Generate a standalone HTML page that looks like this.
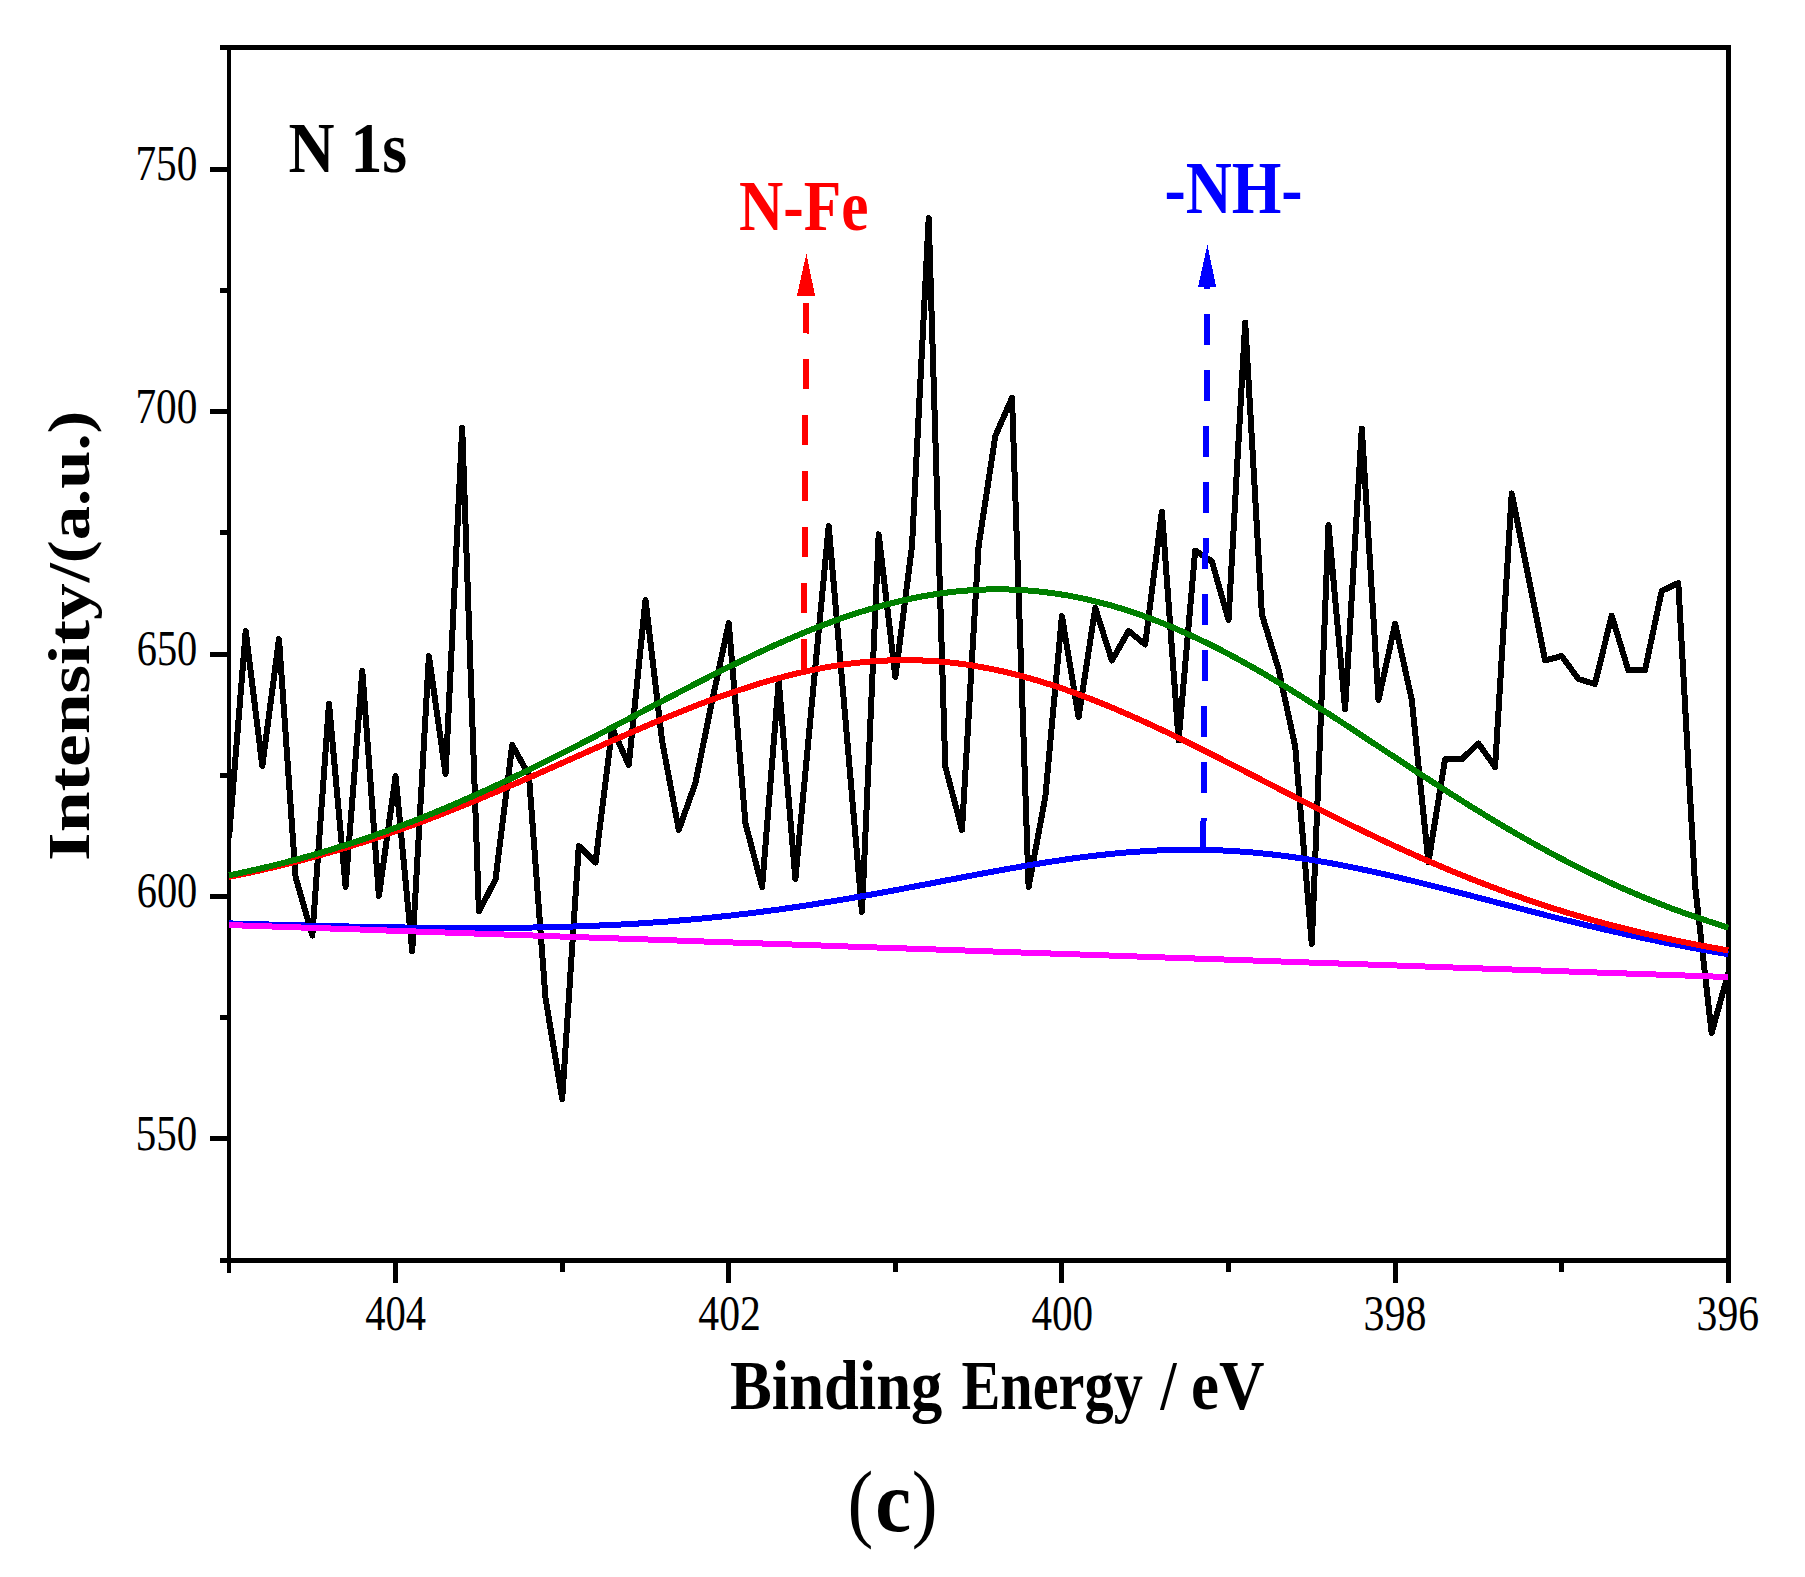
<!DOCTYPE html>
<html lang="en"><head><meta charset="utf-8"><title>N 1s XPS spectrum (c)</title>
<style>
html,body{margin:0;padding:0;background:#fff;}
body{width:1805px;height:1577px;overflow:hidden;}
svg{display:block;}
svg text{font-family:"Liberation Serif","DejaVu Serif",serif;font-size:100px;}
</style></head><body>
<svg width="1805" height="1577" viewBox="0 0 1805 1577">
<rect width="1805" height="1577" fill="#fff"/>
<g stroke="#000" fill="none" shape-rendering="crispEdges">
<line x1="219.5" y1="47.5" x2="1731" y2="47.5" stroke-width="5.0"/>
<line x1="219.5" y1="1260.5" x2="1731" y2="1260.5" stroke-width="5.0"/>
<line x1="229.0" y1="45.0" x2="229.0" y2="1272.5" stroke-width="4.0"/>
<line x1="1728.5" y1="45.0" x2="1728.5" y2="1283.0" stroke-width="5"/>
<line x1="210.2" y1="169.30" x2="229.0" y2="169.30" stroke-width="5.0"/>
<line x1="210.2" y1="411.65" x2="229.0" y2="411.65" stroke-width="5.0"/>
<line x1="210.2" y1="654.00" x2="229.0" y2="654.00" stroke-width="5.0"/>
<line x1="210.2" y1="896.35" x2="229.0" y2="896.35" stroke-width="5.0"/>
<line x1="210.2" y1="1138.70" x2="229.0" y2="1138.70" stroke-width="5.0"/>
<line x1="219.5" y1="290.48" x2="229.0" y2="290.48" stroke-width="5.0"/>
<line x1="219.5" y1="532.83" x2="229.0" y2="532.83" stroke-width="5.0"/>
<line x1="219.5" y1="775.17" x2="229.0" y2="775.17" stroke-width="5.0"/>
<line x1="219.5" y1="1017.53" x2="229.0" y2="1017.53" stroke-width="5.0"/>
<line x1="395.5" y1="1260.5" x2="395.5" y2="1283" stroke-width="5"/>
<line x1="728.5" y1="1260.5" x2="728.5" y2="1283" stroke-width="5"/>
<line x1="1061.5" y1="1260.5" x2="1061.5" y2="1283" stroke-width="5"/>
<line x1="1395.5" y1="1260.5" x2="1395.5" y2="1283" stroke-width="5"/>
<line x1="562.5" y1="1260.5" x2="562.5" y2="1272" stroke-width="5"/>
<line x1="895.5" y1="1260.5" x2="895.5" y2="1272" stroke-width="5"/>
<line x1="1228.5" y1="1260.5" x2="1228.5" y2="1272" stroke-width="5"/>
<line x1="1561.5" y1="1260.5" x2="1561.5" y2="1272" stroke-width="5"/>
</g>
<defs><clipPath id="plotclip"><rect x="228" y="40" width="1501.5" height="1225"/></clipPath></defs>
<g fill="none" stroke-linejoin="round" stroke-linecap="butt" clip-path="url(#plotclip)" shape-rendering="crispEdges">
<polyline points="229.0,838.0 245.7,631.0 262.3,766.0 279.0,639.0 295.6,877.0 312.3,935.5 329.0,703.5 345.6,887.0 362.3,671.0 378.9,896.0 395.6,776.0 412.2,951.0 428.9,656.0 445.6,774.0 462.2,428.0 478.9,911.5 495.5,879.5 512.2,745.0 528.9,775.0 545.5,998.0 562.2,1099.0 578.8,846.0 595.5,862.5 612.2,728.0 628.8,765.0 645.5,600.0 662.1,741.0 678.8,830.0 695.4,783.0 712.1,701.0 728.8,623.0 745.4,823.0 762.1,887.0 778.7,681.0 795.4,879.0 812.1,701.0 828.7,526.0 845.4,719.0 862.0,912.0 878.7,534.3 895.4,677.0 912.0,546.0 928.7,218.0 945.3,766.5 962.0,830.0 978.6,546.0 995.3,436.0 1012.0,397.8 1028.6,887.0 1045.3,797.0 1061.9,616.0 1078.6,717.0 1095.3,608.0 1111.9,660.5 1128.6,631.0 1145.2,644.5 1161.9,511.5 1178.6,740.5 1195.2,550.5 1211.9,561.3 1228.5,620.0 1245.2,322.5 1261.9,614.5 1278.5,669.0 1295.2,746.5 1311.8,944.0 1328.5,525.0 1345.1,709.0 1361.8,428.6 1378.5,700.0 1395.1,623.6 1411.8,700.0 1428.4,862.4 1445.1,759.1 1461.8,759.1 1478.4,743.5 1495.1,767.0 1511.7,493.5 1528.4,577.0 1545.1,660.5 1561.7,656.0 1578.4,679.0 1595.0,684.0 1611.7,615.6 1628.3,670.2 1645.0,670.2 1661.7,591.0 1678.3,583.0 1695.0,885.0 1711.6,1033.0 1728.3,973.0" stroke="#000" stroke-width="6"/>
<polyline points="229.0,923.4 237.0,923.6 245.0,923.9 253.0,924.1 261.0,924.3 269.0,924.5 277.0,924.8 285.0,925.0 293.0,925.2 301.0,925.4 309.0,925.6 317.0,925.8 325.0,926.0 333.0,926.2 341.0,926.3 349.0,926.5 357.0,926.7 365.0,926.8 373.0,927.0 381.0,927.1 389.0,927.3 397.0,927.4 405.0,927.5 413.0,927.6 421.0,927.7 429.0,927.8 437.0,927.9 445.0,927.9 453.0,928.0 461.0,928.0 469.0,928.0 477.0,928.0 485.0,928.0 493.0,928.0 501.0,927.9 509.0,927.8 517.0,927.8 525.0,927.6 533.0,927.5 541.0,927.4 549.0,927.2 557.0,927.0 565.0,926.8 573.0,926.5 581.0,926.3 589.0,926.0 597.0,925.6 605.0,925.3 613.0,924.9 621.0,924.5 629.0,924.1 637.0,923.6 645.0,923.1 653.0,922.5 661.0,922.0 669.0,921.4 677.0,920.7 685.0,920.1 693.0,919.3 701.0,918.6 709.0,917.8 717.0,917.0 725.0,916.1 733.0,915.3 741.0,914.3 749.0,913.4 757.0,912.4 765.0,911.3 773.0,910.3 781.0,909.2 789.0,908.0 797.0,906.9 805.0,905.7 813.0,904.4 821.0,903.1 829.0,901.8 837.0,900.5 845.0,899.2 853.0,897.8 861.0,896.4 869.0,895.0 877.0,893.5 885.0,892.0 893.0,890.6 901.0,889.1 909.0,887.5 917.0,886.0 925.0,884.5 933.0,883.0 941.0,881.4 949.0,879.9 957.0,878.4 965.0,876.8 973.0,875.3 981.0,873.8 989.0,872.3 997.0,870.9 1005.0,869.4 1013.0,868.0 1021.0,866.6 1029.0,865.2 1037.0,863.9 1045.0,862.6 1053.0,861.4 1061.0,860.2 1069.0,859.0 1077.0,857.9 1085.0,856.9 1093.0,855.9 1101.0,855.0 1109.0,854.1 1117.0,853.3 1125.0,852.6 1133.0,852.0 1141.0,851.4 1149.0,850.9 1157.0,850.5 1165.0,850.2 1173.0,850.0 1181.0,849.8 1189.0,849.8 1197.0,849.8 1205.0,849.9 1213.0,850.1 1221.0,850.4 1229.0,850.8 1237.0,851.3 1245.0,851.9 1253.0,852.5 1261.0,853.3 1269.0,854.1 1277.0,855.0 1285.0,856.0 1293.0,857.1 1301.0,858.3 1309.0,859.5 1317.0,860.8 1325.0,862.2 1333.0,863.6 1341.0,865.1 1349.0,866.7 1357.0,868.3 1365.0,870.0 1373.0,871.7 1381.0,873.5 1389.0,875.3 1397.0,877.2 1405.0,879.1 1413.0,881.0 1421.0,883.0 1429.0,885.0 1437.0,887.0 1445.0,889.0 1453.0,891.1 1461.0,893.1 1469.0,895.2 1477.0,897.3 1485.0,899.4 1493.0,901.5 1501.0,903.6 1509.0,905.7 1517.0,907.7 1525.0,909.8 1533.0,911.9 1541.0,913.9 1549.0,916.0 1557.0,918.0 1565.0,920.0 1573.0,921.9 1581.0,923.9 1589.0,925.8 1597.0,927.7 1605.0,929.6 1613.0,931.4 1621.0,933.2 1629.0,935.0 1637.0,936.7 1645.0,938.4 1653.0,940.1 1661.0,941.8 1669.0,943.4 1677.0,944.9 1685.0,946.5 1693.0,948.0 1701.0,949.4 1709.0,950.9 1717.0,952.3 1725.0,953.6 1728.3,954.2" stroke="#0000ff" stroke-width="6"/>
<polyline points="229.0,925.0 237.0,925.3 245.0,925.6 253.0,925.8 261.0,926.1 269.0,926.4 277.0,926.7 285.0,926.9 293.0,927.2 301.0,927.5 309.0,927.8 317.0,928.1 325.0,928.3 333.0,928.6 341.0,928.9 349.0,929.2 357.0,929.4 365.0,929.7 373.0,930.0 381.0,930.3 389.0,930.6 397.0,930.8 405.0,931.1 413.0,931.4 421.0,931.7 429.0,931.9 437.0,932.2 445.0,932.5 453.0,932.8 461.0,933.1 469.0,933.3 477.0,933.6 485.0,933.9 493.0,934.2 501.0,934.4 509.0,934.7 517.0,935.0 525.0,935.3 533.0,935.5 541.0,935.8 549.0,936.1 557.0,936.4 565.0,936.7 573.0,936.9 581.0,937.2 589.0,937.5 597.0,937.8 605.0,938.0 613.0,938.3 621.0,938.6 629.0,938.9 637.0,939.2 645.0,939.4 653.0,939.7 661.0,940.0 669.0,940.3 677.0,940.5 685.0,940.8 693.0,941.1 701.0,941.4 709.0,941.7 717.0,941.9 725.0,942.2 733.0,942.5 741.0,942.8 749.0,943.0 757.0,943.3 765.0,943.6 773.0,943.9 781.0,944.2 789.0,944.4 797.0,944.7 805.0,945.0 813.0,945.3 821.0,945.5 829.0,945.8 837.0,946.1 845.0,946.4 853.0,946.7 861.0,946.9 869.0,947.2 877.0,947.5 885.0,947.8 893.0,948.0 901.0,948.3 909.0,948.6 917.0,948.9 925.0,949.2 933.0,949.4 941.0,949.7 949.0,950.0 957.0,950.3 965.0,950.5 973.0,950.8 981.0,951.1 989.0,951.4 997.0,951.6 1005.0,951.9 1013.0,952.2 1021.0,952.5 1029.0,952.8 1037.0,953.0 1045.0,953.3 1053.0,953.6 1061.0,953.9 1069.0,954.1 1077.0,954.4 1085.0,954.7 1093.0,955.0 1101.0,955.3 1109.0,955.5 1117.0,955.8 1125.0,956.1 1133.0,956.4 1141.0,956.6 1149.0,956.9 1157.0,957.2 1165.0,957.5 1173.0,957.8 1181.0,958.0 1189.0,958.3 1197.0,958.6 1205.0,958.9 1213.0,959.1 1221.0,959.4 1229.0,959.7 1237.0,960.0 1245.0,960.3 1253.0,960.5 1261.0,960.8 1269.0,961.1 1277.0,961.4 1285.0,961.6 1293.0,961.9 1301.0,962.2 1309.0,962.5 1317.0,962.8 1325.0,963.0 1333.0,963.3 1341.0,963.6 1349.0,963.9 1357.0,964.1 1365.0,964.4 1373.0,964.7 1381.0,965.0 1389.0,965.3 1397.0,965.5 1405.0,965.8 1413.0,966.1 1421.0,966.4 1429.0,966.6 1437.0,966.9 1445.0,967.2 1453.0,967.5 1461.0,967.8 1469.0,968.0 1477.0,968.3 1485.0,968.6 1493.0,968.9 1501.0,969.1 1509.0,969.4 1517.0,969.7 1525.0,970.0 1533.0,970.2 1541.0,970.5 1549.0,970.8 1557.0,971.1 1565.0,971.4 1573.0,971.6 1581.0,971.9 1589.0,972.2 1597.0,972.5 1605.0,972.7 1613.0,973.0 1621.0,973.3 1629.0,973.6 1637.0,973.9 1645.0,974.1 1653.0,974.4 1661.0,974.7 1669.0,975.0 1677.0,975.2 1685.0,975.5 1693.0,975.8 1701.0,976.1 1709.0,976.4 1717.0,976.6 1725.0,976.9 1728.3,977.0" stroke="#ff00ff" stroke-width="6"/>
<polyline points="229.0,876.9 237.0,875.3 245.0,873.7 253.0,871.9 261.0,870.2 269.0,868.3 277.0,866.4 285.0,864.5 293.0,862.5 301.0,860.4 309.0,858.2 317.0,856.0 325.0,853.8 333.0,851.5 341.0,849.1 349.0,846.6 357.0,844.1 365.0,841.6 373.0,838.9 381.0,836.2 389.0,833.5 397.0,830.7 405.0,827.8 413.0,824.9 421.0,822.0 429.0,819.0 437.0,815.9 445.0,812.8 453.0,809.6 461.0,806.4 469.0,803.2 477.0,799.9 485.0,796.5 493.0,793.2 501.0,789.8 509.0,786.3 517.0,782.9 525.0,779.4 533.0,775.9 541.0,772.4 549.0,768.8 557.0,765.3 565.0,761.7 573.0,758.2 581.0,754.6 589.0,751.0 597.0,747.5 605.0,743.9 613.0,740.4 621.0,736.9 629.0,733.4 637.0,729.9 645.0,726.5 653.0,723.1 661.0,719.7 669.0,716.4 677.0,713.2 685.0,710.0 693.0,706.8 701.0,703.7 709.0,700.7 717.0,697.8 725.0,694.9 733.0,692.2 741.0,689.5 749.0,686.9 757.0,684.4 765.0,681.9 773.0,679.7 781.0,677.5 789.0,675.4 797.0,673.4 805.0,671.6 813.0,669.9 821.0,668.3 829.0,666.8 837.0,665.5 845.0,664.3 853.0,663.3 861.0,662.4 869.0,661.6 877.0,661.0 885.0,660.6 893.0,660.3 901.0,660.1 909.0,660.1 917.0,660.3 925.0,660.6 933.0,661.0 941.0,661.7 949.0,662.4 957.0,663.3 965.0,664.4 973.0,665.6 981.0,667.0 989.0,668.5 997.0,670.1 1005.0,671.9 1013.0,673.8 1021.0,675.9 1029.0,678.1 1037.0,680.4 1045.0,682.9 1053.0,685.4 1061.0,688.1 1069.0,690.9 1077.0,693.8 1085.0,696.8 1093.0,699.9 1101.0,703.1 1109.0,706.3 1117.0,709.7 1125.0,713.2 1133.0,716.7 1141.0,720.3 1149.0,723.9 1157.0,727.7 1165.0,731.4 1173.0,735.3 1181.0,739.1 1189.0,743.1 1197.0,747.0 1205.0,751.0 1213.0,755.1 1221.0,759.1 1229.0,763.2 1237.0,767.3 1245.0,771.4 1253.0,775.5 1261.0,779.6 1269.0,783.8 1277.0,787.9 1285.0,792.0 1293.0,796.1 1301.0,800.2 1309.0,804.2 1317.0,808.3 1325.0,812.3 1333.0,816.3 1341.0,820.3 1349.0,824.2 1357.0,828.1 1365.0,832.0 1373.0,835.8 1381.0,839.6 1389.0,843.4 1397.0,847.1 1405.0,850.7 1413.0,854.3 1421.0,857.9 1429.0,861.4 1437.0,864.8 1445.0,868.2 1453.0,871.6 1461.0,874.8 1469.0,878.1 1477.0,881.2 1485.0,884.3 1493.0,887.4 1501.0,890.3 1509.0,893.3 1517.0,896.1 1525.0,898.9 1533.0,901.6 1541.0,904.3 1549.0,906.9 1557.0,909.5 1565.0,912.0 1573.0,914.4 1581.0,916.7 1589.0,919.1 1597.0,921.3 1605.0,923.5 1613.0,925.6 1621.0,927.7 1629.0,929.7 1637.0,931.7 1645.0,933.6 1653.0,935.4 1661.0,937.2 1669.0,939.0 1677.0,940.7 1685.0,942.3 1693.0,943.9 1701.0,945.5 1709.0,947.0 1717.0,948.4 1725.0,949.9 1728.3,950.4" stroke="#ff0000" stroke-width="6"/>
<polyline points="229.0,875.3 237.0,873.7 245.0,872.0 253.0,870.2 261.0,868.4 269.0,866.5 277.0,864.5 285.0,862.5 293.0,860.4 301.0,858.3 309.0,856.1 317.0,853.8 325.0,851.4 333.0,849.0 341.0,846.5 349.0,844.0 357.0,841.4 365.0,838.7 373.0,835.9 381.0,833.1 389.0,830.2 397.0,827.3 405.0,824.2 413.0,821.2 421.0,818.0 429.0,814.8 437.0,811.5 445.0,808.2 453.0,804.8 461.0,801.3 469.0,797.8 477.0,794.3 485.0,790.6 493.0,787.0 501.0,783.2 509.0,779.5 517.0,775.6 525.0,771.8 533.0,767.9 541.0,763.9 549.0,759.9 557.0,755.9 565.0,751.8 573.0,747.8 581.0,743.6 589.0,739.5 597.0,735.4 605.0,731.2 613.0,727.0 621.0,722.8 629.0,718.6 637.0,714.4 645.0,710.1 653.0,705.9 661.0,701.7 669.0,697.5 677.0,693.4 685.0,689.2 693.0,685.1 701.0,681.0 709.0,676.9 717.0,672.9 725.0,668.9 733.0,664.9 741.0,661.0 749.0,657.2 757.0,653.4 765.0,649.7 773.0,646.0 781.0,642.5 789.0,639.0 797.0,635.6 805.0,632.2 813.0,629.0 821.0,625.9 829.0,622.9 837.0,619.9 845.0,617.1 853.0,614.4 861.0,611.8 869.0,609.4 877.0,607.1 885.0,604.9 893.0,602.8 901.0,600.9 909.0,599.1 917.0,597.4 925.0,595.9 933.0,594.6 941.0,593.4 949.0,592.3 957.0,591.4 965.0,590.7 973.0,590.1 981.0,589.7 989.0,589.4 997.0,589.3 1005.0,589.4 1013.0,589.6 1021.0,590.0 1029.0,590.6 1037.0,591.3 1045.0,592.2 1053.0,593.2 1061.0,594.4 1069.0,595.7 1077.0,597.3 1085.0,598.9 1093.0,600.8 1101.0,602.8 1109.0,604.9 1117.0,607.2 1125.0,609.7 1133.0,612.3 1141.0,615.1 1149.0,618.0 1157.0,621.0 1165.0,624.2 1173.0,627.5 1181.0,631.0 1189.0,634.6 1197.0,638.3 1205.0,642.1 1213.0,646.1 1221.0,650.1 1229.0,654.3 1237.0,658.6 1245.0,663.0 1253.0,667.5 1261.0,672.1 1269.0,676.8 1277.0,681.5 1285.0,686.4 1293.0,691.3 1301.0,696.2 1309.0,701.3 1317.0,706.4 1325.0,711.5 1333.0,716.6 1341.0,721.8 1349.0,727.1 1357.0,732.3 1365.0,737.6 1373.0,742.9 1381.0,748.2 1389.0,753.5 1397.0,758.7 1405.0,764.0 1413.0,769.3 1421.0,774.5 1429.0,779.7 1437.0,784.9 1445.0,790.1 1453.0,795.2 1461.0,800.2 1469.0,805.3 1477.0,810.2 1485.0,815.1 1493.0,820.0 1501.0,824.8 1509.0,829.5 1517.0,834.2 1525.0,838.7 1533.0,843.3 1541.0,847.7 1549.0,852.1 1557.0,856.4 1565.0,860.6 1573.0,864.7 1581.0,868.7 1589.0,872.7 1597.0,876.5 1605.0,880.3 1613.0,884.0 1621.0,887.6 1629.0,891.1 1637.0,894.5 1645.0,897.9 1653.0,901.1 1661.0,904.3 1669.0,907.4 1677.0,910.4 1685.0,913.3 1693.0,916.1 1701.0,918.8 1709.0,921.5 1717.0,924.1 1725.0,926.6 1728.3,927.6" stroke="#008000" stroke-width="6"/>
<line x1="806" y1="303" x2="804" y2="669.5" stroke="#ff0000" stroke-width="6" stroke-dasharray="30.5 25.5"/>
<line x1="1207.3" y1="314.3" x2="1203.3" y2="849.5" stroke="#0000ff" stroke-width="6" stroke-dasharray="30.5 25.5"/>
</g>
<polygon shape-rendering="crispEdges" points="806.4,253.6 796.9,296 815.1,296" fill="#ff0000"/>
<polygon shape-rendering="crispEdges" points="1207.4,244.6 1198,286.9 1204,286.9 1204,289 1210,289 1210,286.9 1216.1,286.9" fill="#0000ff"/>
<g>
<text transform="matrix(0.6374 0 0 0.7152 288.43 171.60)" font-weight="bold" fill="#000">N 1s</text>
<text transform="matrix(0.4129 0 0 0.5045 135.41 180.39)" font-weight="normal" fill="#000">750</text>
<text transform="matrix(0.4129 0 0 0.5045 135.41 422.74)" font-weight="normal" fill="#000">700</text>
<text transform="matrix(0.4042 0 0 0.5045 136.68 665.09)" font-weight="normal" fill="#000">650</text>
<text transform="matrix(0.4042 0 0 0.5045 136.68 907.44)" font-weight="normal" fill="#000">600</text>
<text transform="matrix(0.4100 0 0 0.5045 135.84 1149.79)" font-weight="normal" fill="#000">550</text>
<text transform="matrix(0.4055 0 0 0.5075 365.18 1330.29)" font-weight="normal" fill="#000">404</text>
<text transform="matrix(0.4169 0 0 0.5075 698.33 1330.29)" font-weight="normal" fill="#000">402</text>
<text transform="matrix(0.4111 0 0 0.5075 1031.52 1330.29)" font-weight="normal" fill="#000">400</text>
<text transform="matrix(0.4199 0 0 0.5075 1363.42 1330.29)" font-weight="normal" fill="#000">398</text>
<text transform="matrix(0.4169 0 0 0.5075 1696.62 1330.29)" font-weight="normal" fill="#000">396</text>
<text transform="matrix(0.6265 0 0 0.7030 729.95 1409.00)" font-weight="bold" fill="#000">Binding</text>
<text transform="matrix(0.5831 0 0 0.7030 961.43 1409.00)" font-weight="bold" fill="#000">Energy</text>
<text transform="matrix(0.5767 0 0 0.7030 1160.38 1409.00)" font-weight="bold" fill="#000">/</text>
<text transform="matrix(0.6301 0 0 0.7030 1191.11 1409.00)" font-weight="bold" fill="#000">eV</text>
<text transform="matrix(0.7769 0 0 0.8578 847.59 1531.09)" font-weight="normal" fill="#000">(</text>
<text transform="matrix(0.8077 0 0 0.8604 875.18 1531.14)" font-weight="bold" fill="#000">c</text>
<text transform="matrix(0.7769 0 0 0.8578 911.77 1531.09)" font-weight="normal" fill="#000">)</text>
<text transform="matrix(0.6136 0 0 0.7227 739.07 230.18)" font-weight="bold" fill="#ff0000">N-Fe</text>
<text transform="matrix(0.6378 0 0 0.7369 1164.45 213.10)" font-weight="bold" fill="#0000ff">-NH-</text>
<text transform="matrix(0 -0.7350 0.5909 0 88.80 860.91)" font-weight="bold" fill="#000">Intensity</text>
<text transform="matrix(0 -0.6874 0.5909 0 88.80 582.31)" font-weight="bold" fill="#000">/(a.u.)</text>
</g>
</svg>
</body></html>
